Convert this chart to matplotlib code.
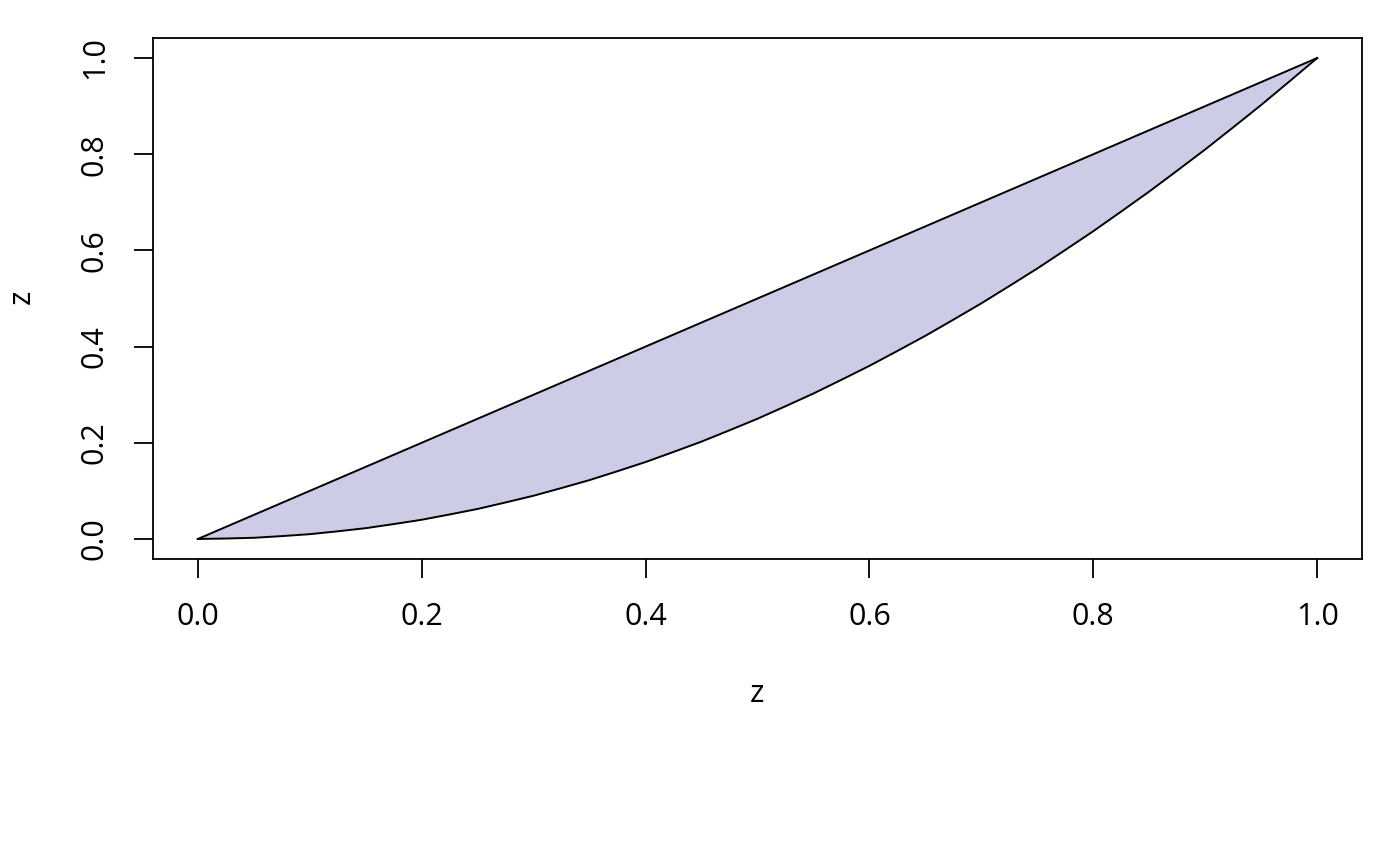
import matplotlib
matplotlib.use("Agg")
import matplotlib.pyplot as plt

plt.rcParams["font.family"] = ["Open Sans", "DejaVu Sans"]

# values
z = [0.0, 0.025, 0.05, 0.075, 0.1, 0.125, 0.15, 0.175, 0.2, 0.225, 0.25,
     0.275, 0.3, 0.325, 0.35, 0.375, 0.4, 0.425, 0.45, 0.475, 0.5,
     0.525, 0.55, 0.575, 0.6, 0.625, 0.65, 0.675, 0.7, 0.725, 0.75,
     0.775, 0.8, 0.825, 0.85, 0.875, 0.9, 0.925, 0.95, 0.975, 1.0]
upper = [0.0, 0.025, 0.05, 0.075, 0.1, 0.125, 0.15, 0.175, 0.2, 0.225, 0.25,
         0.275, 0.3, 0.325, 0.35, 0.375, 0.4, 0.425, 0.45, 0.475, 0.5,
         0.525, 0.55, 0.575, 0.6, 0.625, 0.65, 0.675, 0.7, 0.725, 0.75,
         0.775, 0.8, 0.825, 0.85, 0.875, 0.9, 0.925, 0.95, 0.975, 1.0]
lower = [0.0, 0.001, 0.0025, 0.006, 0.01, 0.016, 0.0225, 0.031, 0.04, 0.051, 0.0625,
         0.076, 0.09, 0.106, 0.1225, 0.141, 0.16, 0.181, 0.2025, 0.226, 0.25,
         0.276, 0.3025, 0.331, 0.36, 0.391, 0.4225, 0.456, 0.49, 0.526, 0.5625,
         0.601, 0.64, 0.681, 0.7225, 0.766, 0.81, 0.856, 0.9025, 0.951, 1.0]
ticks = [0.0, 0.2, 0.4, 0.6, 0.8, 1.0]
tick_labels = ["0.0", "0.2", "0.4", "0.6", "0.8", "1.0"]

fig = plt.figure(figsize=(14, 8.66), dpi=100)
ax = fig.add_axes([153 / 1400, 307 / 866, 1209 / 1400, 521 / 866])

ax.fill_between(z, lower, upper, facecolor="#ccccE6", edgecolor="none")
ax.plot(z, upper, color="black", lw=1.4)
ax.plot(z, lower, color="black", lw=1.4)

ax.set_xlim(-0.04, 1.04)
ax.set_ylim(-0.0416, 1.0416)

ax.set_xticks(ticks)
ax.set_xticklabels(tick_labels)
ax.set_yticks(ticks)
ax.set_yticklabels(tick_labels, rotation=90, va="center")
ax.tick_params(direction="out", length=14, width=1.3, labelsize=22, pad=17,
               colors="black")
for s in ax.spines.values():
    s.set_linewidth(1.3)

fig.text(757 / 1400, 1 - 694 / 866, "z", ha="center", va="center", fontsize=22)
fig.text(22 / 1400, 1 - 297 / 866, "z", ha="center", va="center", fontsize=22,
         rotation=90)

fig.savefig("out.png", dpi=100)
